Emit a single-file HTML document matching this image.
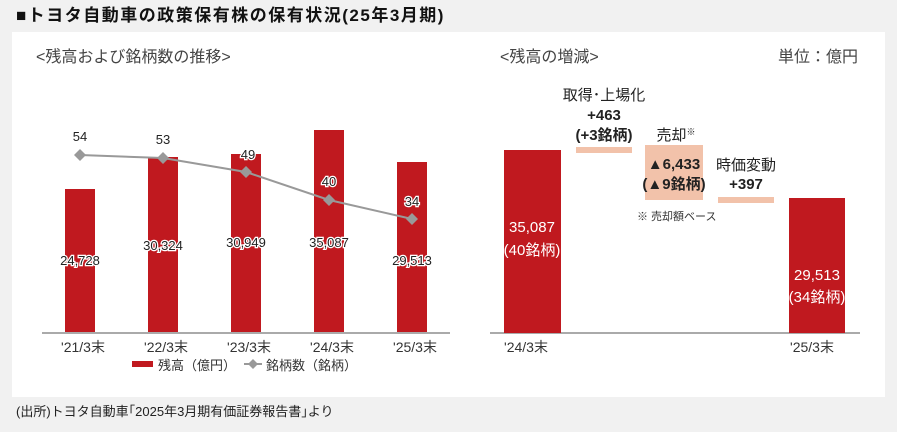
<!DOCTYPE html>
<html><head><meta charset="utf-8"><style>
body{margin:0;width:897px;height:427px;background:#f1f1f1;font-family:"Liberation Sans","Noto Sans CJK JP",sans-serif;overflow:hidden}
</style></head><body>
<svg width="897" height="427" xmlns="http://www.w3.org/2000/svg" font-family="Liberation Sans, Noto Sans CJK JP, sans-serif">
<rect x="0" y="0" width="897" height="427" fill="#f1f1f1"/>
<text x="16" y="21" font-size="17" font-weight="bold" fill="#111" letter-spacing="1.5">■トヨタ自動車の政策保有株の保有状況(25年3月期)</text>
<rect x="12" y="32" width="873" height="365" fill="#fff"/>
<text x="36" y="62" font-size="16" fill="#444">&lt;残高および銘柄数の推移&gt;</text>
<text x="500" y="62" font-size="16" fill="#444">&lt;残高の増減&gt;</text>
<text x="778" y="62" font-size="16" fill="#444">単位：億円</text>
<g fill="#c0191f">
<rect x="65" y="189" width="30" height="144"/>
<rect x="148" y="157" width="30" height="176"/>
<rect x="231" y="154" width="30" height="179"/>
<rect x="314" y="130" width="30" height="203"/>
<rect x="397" y="162" width="30" height="171"/>
</g>
<line x1="42" y1="333" x2="450" y2="333" stroke="#aaa" stroke-width="2"/>
<g font-size="13" fill="#222" text-anchor="middle" stroke="#fff" stroke-width="2.5" paint-order="stroke">
<text x="80" y="265">24,728</text>
<text x="163" y="250">30,324</text>
<text x="246" y="247">30,949</text>
<text x="329" y="247">35,087</text>
<text x="412" y="265">29,513</text>
</g>
<polyline points="80,155 163,158 246,172 329,200 412,219" fill="none" stroke="#999" stroke-width="2"/>
<g fill="#999">
<path d="M80,149 l6,6 -6,6 -6,-6z"/><path d="M163,152 l6,6 -6,6 -6,-6z"/><path d="M246,166 l6,6 -6,6 -6,-6z"/><path d="M329,194 l6,6 -6,6 -6,-6z"/><path d="M412,213 l6,6 -6,6 -6,-6z"/>
</g>
<g font-size="13" fill="#222" text-anchor="middle" stroke="#fff" stroke-width="2.5" paint-order="stroke">
<text x="80" y="141">54</text><text x="163" y="144">53</text><text x="248" y="159">49</text><text x="329" y="186">40</text><text x="412" y="206">34</text>
</g>
<g font-size="14" fill="#333" text-anchor="middle">
<text x="83" y="352">'21/3末</text><text x="166" y="352">'22/3末</text><text x="249" y="352">'23/3末</text><text x="332" y="352">'24/3末</text><text x="415" y="352">'25/3末</text>
<text x="526" y="352">'24/3末</text><text x="812" y="352">'25/3末</text>
</g>
<rect x="132" y="361" width="21" height="6" fill="#c0191f"/>
<text x="158" y="370" font-size="13" fill="#333">残高（億円）</text>
<line x1="244" y1="364" x2="262" y2="364" stroke="#999" stroke-width="2"/><path d="M253,359 l5,5 -5,5 -5,-5z" fill="#999"/>
<text x="266" y="370" font-size="13" fill="#333">銘柄数（銘柄）</text>
<line x1="490" y1="333" x2="860" y2="333" stroke="#aaa" stroke-width="2"/>
<rect x="504" y="150" width="57" height="183" fill="#c0191f"/>
<rect x="789" y="198" width="56" height="135" fill="#c0191f"/>
<rect x="576" y="147" width="56" height="6" fill="#f2c2aa"/>
<rect x="645" y="145" width="58" height="55" fill="#f2c2aa"/>
<rect x="718" y="197" width="56" height="6" fill="#f2c2aa"/>
<g font-size="15" fill="#fff" text-anchor="middle">
<text x="532" y="232">35,087</text><text x="532" y="255">(40銘柄)</text>
<text x="817" y="280">29,513</text><text x="817" y="302">(34銘柄)</text>
</g>
<g font-size="15" fill="#222" text-anchor="middle">
<text x="604" y="100">取得･上場化</text>
<text x="604" y="120" font-weight="bold">+463</text>
<text x="604" y="140" font-weight="bold">(+3銘柄)</text>
<text x="676" y="140">売却<tspan font-size="9" dy="-5">※</tspan></text>
<text x="674" y="169" font-weight="bold">▲6,433</text>
<text x="674" y="189" font-weight="bold">(▲9銘柄)</text>
<text x="746" y="170">時価変動</text>
<text x="746" y="189" font-weight="bold">+397</text>
</g>
<text x="637" y="220" font-size="11" fill="#333">※ 売却額ベース</text>
<text x="16" y="416" font-size="13" fill="#222">(出所)トヨタ自動車｢2025年3月期有価証券報告書｣より</text>
</svg>
</body></html>
